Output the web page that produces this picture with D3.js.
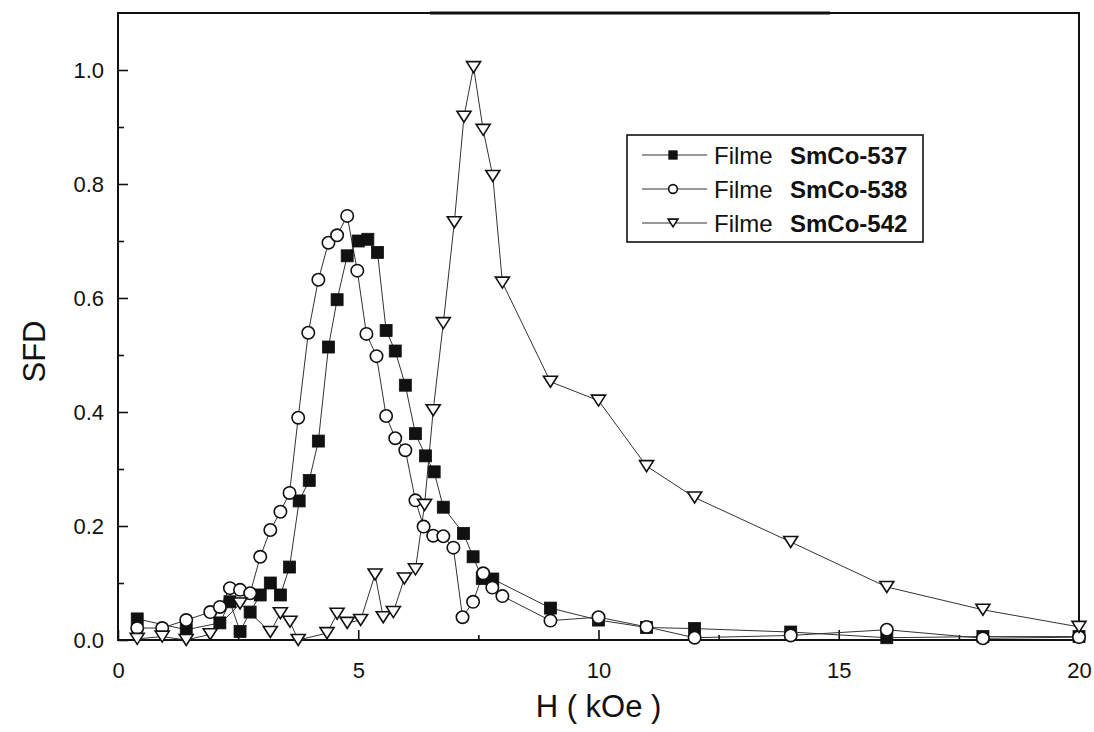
<!DOCTYPE html>
<html>
<head>
<meta charset="utf-8">
<script src="https://cdn.jsdelivr.net/npm/d3@7"></script>
<style>
  body { margin: 0; background: #fff; }
  svg { display: block; }
  text { font-family: "Liberation Sans", Arial, Helvetica, sans-serif; fill: #111; }
</style>
</head>
<body>
<svg id="chart" width="1094" height="732"></svg>
<script>
// Switching field distribution of three SmCo films
const h537 = [0.4, 1.42, 2.12, 2.33, 2.54, 2.75, 2.96, 3.17, 3.38, 3.57, 3.77, 3.98, 4.17, 4.38, 4.56, 4.77, 5.0, 5.2, 5.4, 5.58, 5.77, 5.98, 6.19, 6.4, 6.58, 6.77, 7.19, 7.39, 7.58, 7.8, 9, 10, 11, 12, 14, 16, 18, 20];
const sfd537 = [0.037, 0.018, 0.03, 0.067, 0.015, 0.049, 0.079, 0.10, 0.079, 0.128, 0.244, 0.28, 0.349, 0.514, 0.597, 0.674, 0.70, 0.703, 0.68, 0.543, 0.507, 0.447, 0.362, 0.323, 0.295, 0.233, 0.187, 0.146, 0.108, 0.107, 0.056, 0.035, 0.022, 0.02, 0.014, 0.004, 0.006, 0.006];

const h538 = [0.4, 0.92, 1.42, 1.92, 2.12, 2.33, 2.54, 2.75, 2.96, 3.17, 3.38, 3.57, 3.75, 3.96, 4.17, 4.38, 4.56, 4.77, 4.98, 5.17, 5.38, 5.58, 5.77, 5.98, 6.19, 6.36, 6.56, 6.77, 6.98, 7.17, 7.39, 7.6, 7.79, 8.0, 9, 10, 11, 12, 14, 16, 18, 20];
const sfd538 = [0.021, 0.021, 0.035, 0.049, 0.058, 0.091, 0.088, 0.082, 0.146, 0.193, 0.225, 0.258, 0.39, 0.539, 0.632, 0.697, 0.71, 0.744, 0.648, 0.537, 0.498, 0.393, 0.354, 0.333, 0.245, 0.199, 0.183, 0.182, 0.162, 0.04, 0.067, 0.117, 0.092, 0.077, 0.034, 0.04, 0.023, 0.004, 0.008, 0.018, 0.003, 0.005];

const h542 = [0.4, 0.92, 1.42, 1.92, 2.54, 3.17, 3.38, 3.58, 3.75, 4.35, 4.56, 4.77, 5.05, 5.35, 5.52, 5.73, 5.96, 6.19, 6.38, 6.56, 6.77, 7.0, 7.2, 7.4, 7.6, 7.8, 8.0, 9, 10, 11, 12, 14, 16, 18, 20];
const sfd542 = [0.002, 0.006, 0.0, 0.01, 0.064, 0.014, 0.047, 0.032, 0.0, 0.012, 0.046, 0.03, 0.035, 0.115, 0.04, 0.049, 0.108, 0.124, 0.237, 0.403, 0.556, 0.733, 0.918, 1.005, 0.895, 0.814, 0.627, 0.453, 0.42, 0.305, 0.25, 0.172, 0.093, 0.053, 0.023];

const seriesNames = ["SmCo-537", "SmCo-538", "SmCo-542"];
const seriesPrefix = "Filme";
const xTicks = [0, 5, 10, 15, 20];
const yTicks = [0.0, 0.2, 0.4, 0.6, 0.8, 1.0];
const xLabel = "H ( kOe )";
const yLabel = "SFD";

const svg = d3.select("#chart");
const plotL = 118, plotR = 1079, plotT = 13, plotB = 640;

const x = d3.scaleLinear().domain([0, 20]).range([plotL, plotR]);
const y = d3.scaleLinear().domain([0, 1.1]).range([plotB, plotT]);

const ink = "#111";

// Frame
svg.append("rect")
  .attr("x", plotL).attr("y", plotT)
  .attr("width", plotR - plotL).attr("height", plotB - plotT)
  .attr("fill", "none").attr("stroke", ink).attr("stroke-width", 2);
svg.append("line")
  .attr("x1", 430).attr("x2", 830).attr("y1", plotT).attr("y2", plotT)
  .attr("stroke", ink).attr("stroke-width", 3);

// Axes: inward ticks, major + minor
const xAxisG = svg.append("g").attr("transform", `translate(0,${plotB})`);
xAxisG.call(d3.axisBottom(x).tickValues(xTicks).tickSize(-10).tickPadding(22).tickFormat(d3.format("d")));
const xMinor = svg.append("g").attr("transform", `translate(0,${plotB})`);
xMinor.call(d3.axisBottom(x).tickValues([2.5, 7.5, 12.5, 17.5]).tickSize(-5).tickFormat(""));

const yAxisG = svg.append("g").attr("transform", `translate(${plotL},0)`);
yAxisG.call(d3.axisLeft(y).tickValues(yTicks).tickSize(-10).tickPadding(14).tickFormat(d3.format(".1f")));
const yMinor = svg.append("g").attr("transform", `translate(${plotL},0)`);
yMinor.call(d3.axisLeft(y).tickValues([0.1, 0.3, 0.5, 0.7, 0.9]).tickSize(-6).tickFormat(""));

svg.selectAll(".domain").remove();
svg.selectAll(".tick line").attr("stroke", ink).attr("stroke-width", 1.6);
xAxisG.selectAll("text").attr("font-size", 22).attr("fill", ink);
yAxisG.selectAll("text").attr("font-size", 22).attr("fill", ink);

// Axis titles
svg.append("text")
  .attr("x", (plotL + plotR) / 2).attr("y", 717)
  .attr("text-anchor", "middle").attr("font-size", 31)
  .text(xLabel);
svg.append("text")
  .attr("transform", `translate(45,${(plotT + plotB) / 2 + 25}) rotate(-90)`)
  .attr("text-anchor", "middle").attr("font-size", 31)
  .text(yLabel);

// Marker drawing
const triPath = (w, h) => `M${-w / 2},${-h / 2}L${w / 2},${-h / 2}L0,${h / 2}Z`;
function drawMarker(g, kind, scale) {
  if (kind === "square") {
    const s = 12 * scale;
    g.append("rect").attr("x", -s / 2).attr("y", -s / 2).attr("width", s).attr("height", s)
      .attr("fill", ink).attr("stroke", ink).attr("stroke-width", 0.8);
  } else if (kind === "circle") {
    g.append("circle").attr("r", 6.2 * scale)
      .attr("fill", "#fff").attr("stroke", ink).attr("stroke-width", 1.6);
  } else {
    g.append("path").attr("d", triPath(14 * scale, 11 * scale))
      .attr("fill", "#fff").attr("stroke", ink).attr("stroke-width", 1.6);
  }
}

const series = [
  { name: seriesNames[0], h: h537, v: sfd537, kind: "square" },
  { name: seriesNames[1], h: h538, v: sfd538, kind: "circle" },
  { name: seriesNames[2], h: h542, v: sfd542, kind: "triangle" }
];

const line = d3.line().x(d => x(d[0])).y(d => y(d[1]));

// Connecting lines first, then markers on top
series.forEach(s => {
  const pts = s.h.map((h, i) => [h, s.v[i]]);
  svg.append("path").datum(pts)
    .attr("d", line).attr("fill", "none")
    .attr("stroke", "#333").attr("stroke-width", 1);
});
series.forEach(s => {
  const pts = s.h.map((h, i) => [h, s.v[i]]);
  const g = svg.append("g");
  pts.forEach(p => {
    const m = g.append("g").attr("transform", `translate(${x(p[0])},${y(p[1])})`);
    drawMarker(m, s.kind, 1);
  });
});

// Legend
const lg = svg.append("g");
lg.append("rect").attr("x", 627).attr("y", 135).attr("width", 296).attr("height", 107)
  .attr("fill", "#fff").attr("stroke", ink).attr("stroke-width", 1.6);
series.forEach((s, i) => {
  const cy = 155 + i * 34;
  lg.append("line").attr("x1", 642).attr("x2", 707).attr("y1", cy).attr("y2", cy)
    .attr("stroke", "#333").attr("stroke-width", 1.2);
  const m = lg.append("g").attr("transform", `translate(673,${cy})`);
  drawMarker(m, s.kind, 0.7);
  lg.append("text").attr("x", 714).attr("y", cy + 9).attr("font-size", 24).text(seriesPrefix);
  lg.append("text").attr("x", 790).attr("y", cy + 9).attr("font-size", 24)
    .attr("font-weight", "bold").text(s.name);
});
</script>
</body>
</html>
